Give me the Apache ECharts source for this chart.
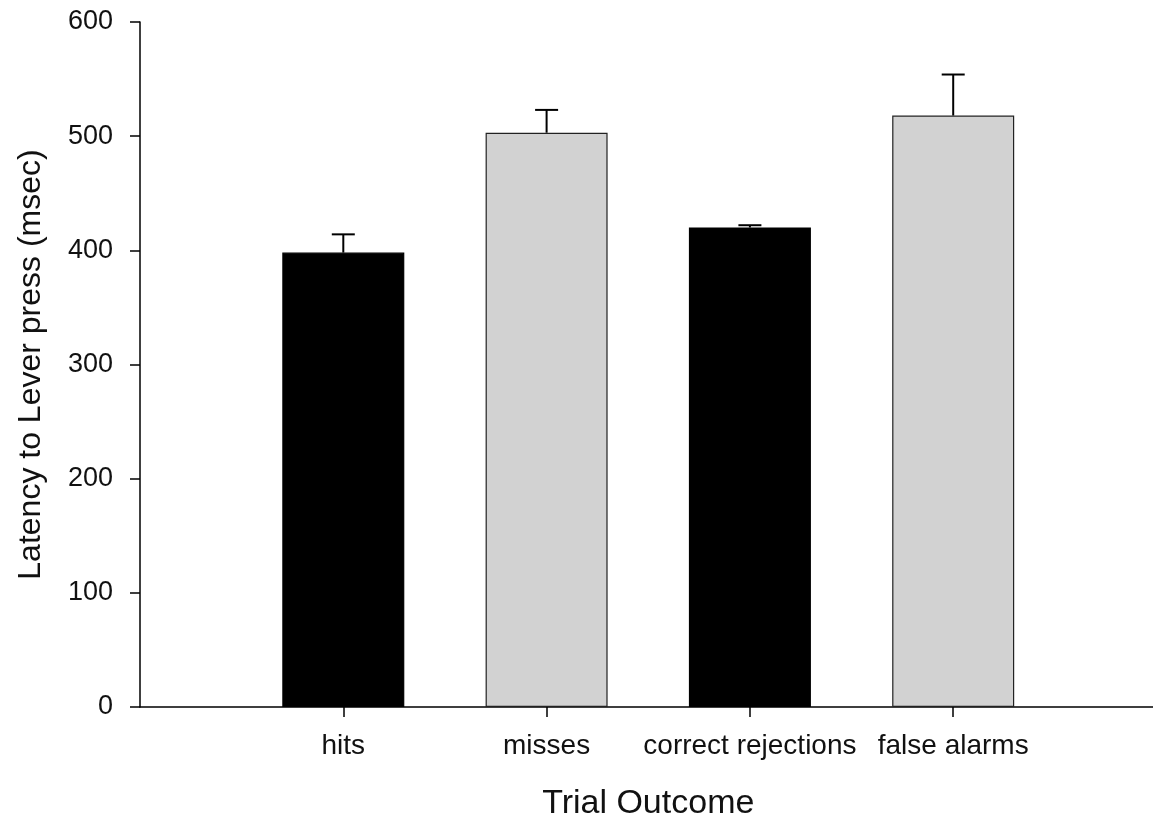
<!DOCTYPE html>
<html>
<head>
<meta charset="utf-8">
<script src="https://cdn.jsdelivr.net/npm/echarts@6/dist/echarts.min.js"></script>
<style>html,body{margin:0;padding:0;background:#fff}#c{width:1153px;height:821px}</style>
</head>
<body>
<div id="c"></div>
<script>
const categories = ['hits', 'misses', 'correct rejections', 'false alarms'];
const latency = [398, 503, 420, 518];
const sem = [16, 20, 2, 36];
const yTicks = [0, 100, 200, 300, 400, 500, 600];

const barColors = ['#000000', '#d2d2d2', '#000000', '#d2d2d2'];
const axisCats = [''].concat(categories, ['']);
const barData = [null].concat(latency.map((v, i) => ({
  value: v,
  itemStyle: { color: barColors[i], borderColor: i % 2 ? '#222' : '#000', borderWidth: 1.2 }
})), [null]);
const errData = latency.map((v, i) => [i + 1, v, v + sem[i]]);

const font = 'Liberation Sans, Arial, Helvetica, sans-serif';
const chart = echarts.init(document.getElementById('c'));
chart.setOption({
  animation: false,
  backgroundColor: '#fff',
  grid: { left: 140, top: 22, width: 1016.5, height: 685, outerBoundsMode: 'none', containLabel: false },
  xAxis: {
    type: 'category',
    data: axisCats,
    boundaryGap: false,
    name: 'Trial Outcome',
    nameLocation: 'middle',
    nameGap: 80,
    nameTextStyle: { fontFamily: font, fontSize: 34, color: '#111' },
    axisLine: { lineStyle: { color: '#000', width: 1.5 } },
    axisTick: { show: true, length: 10, lineStyle: { color: '#000', width: 1.5 },
      interval: (idx, val) => val !== '' },
    axisLabel: { interval: (idx, val) => val !== '', margin: 25,
      fontFamily: font, fontSize: 28, color: '#111' },
    splitLine: { show: false }
  },
  yAxis: {
    type: 'value',
    min: yTicks[0], max: yTicks[yTicks.length - 1], interval: 100,
    name: 'Latency to Lever press (msec)',
    nameLocation: 'middle',
    nameGap: 93,
    nameTextStyle: { fontFamily: font, fontSize: 32, color: '#111' },
    axisLine: { show: true, lineStyle: { color: '#000', width: 1.5 } },
    axisTick: { show: true, length: 10, lineStyle: { color: '#000', width: 1.5 } },
    axisLabel: { margin: 27, fontFamily: font, fontSize: 27, color: '#111' },
    splitLine: { show: false }
  },
  series: [
    {
      type: 'bar',
      data: barData,
      barWidth: 122,
      z: 2
    },
    {
      type: 'custom',
      data: errData,
      z: 1,
      renderItem: function (params, api) {
        const x = api.value(0);
        const lo = api.coord([x, api.value(1)]);
        const hi = api.coord([x, api.value(2)]);
        const hw = 11.5;
        const st = { stroke: '#000', lineWidth: 2 };
        return {
          type: 'group',
          children: [
            { type: 'line', shape: { x1: lo[0], y1: lo[1], x2: hi[0], y2: hi[1] }, style: st },
            { type: 'line', shape: { x1: hi[0] - hw, y1: hi[1], x2: hi[0] + hw, y2: hi[1] }, style: st }
          ]
        };
      }
    }
  ]
});
</script>
</body>
</html>
